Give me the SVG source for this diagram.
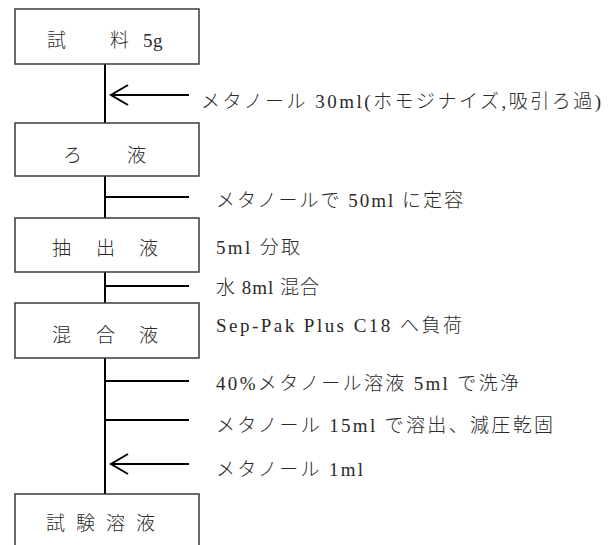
<svg xmlns="http://www.w3.org/2000/svg" width="616" height="545" viewBox="0 0 616 545">
<style>
.box{fill:#fff;stroke:#3a3a3a;stroke-width:1.5}
.bt{font-family:"Liberation Serif","Noto Sans CJK JP",serif;font-size:19px;font-weight:300;fill:#2a2a2a}
.lb{font-family:"Liberation Serif","Noto Sans CJK JP",serif;font-size:19px;font-weight:300;fill:#2a2a2a}
.ln{stroke:#000;stroke-width:2;fill:none}
</style>
<defs>
<marker id="ah" markerUnits="userSpaceOnUse" markerWidth="24" markerHeight="24" viewBox="-20 -12 24 24" refX="0" refY="0" orient="auto" overflow="visible">
<path d="M-17,-10 L0,0 L-17,10" fill="none" stroke="#000" stroke-width="2"/>
</marker>
</defs>
<g id="connectors">
<line class="ln" x1="105" y1="64" x2="105" y2="123"/>
<line class="ln" x1="105" y1="176" x2="105" y2="218"/>
<line class="ln" x1="105" y1="272" x2="105" y2="303"/>
<line class="ln" x1="105" y1="358" x2="105" y2="494"/>
<line class="ln" x1="189" y1="95" x2="111" y2="95" marker-end="url(#ah)"/>
<line class="ln" x1="105" y1="197" x2="189" y2="197"/>
<line class="ln" x1="105" y1="286" x2="189" y2="286"/>
<line class="ln" x1="105" y1="381" x2="189" y2="381"/>
<line class="ln" x1="105" y1="420" x2="189" y2="420"/>
<line class="ln" x1="189" y1="464" x2="111" y2="464" marker-end="url(#ah)"/>
</g>
<g id="node1">
<rect class="box" x="15" y="9" width="184" height="55"/>
<text class="bt" x="47 67 88 110 130 143 153" y="47" xml:space="preserve">試　　料 5g</text>
</g>
<g id="node2">
<rect class="box" x="15" y="123" width="184" height="53"/>
<text class="bt" x="63 84 105 127" y="162">ろ　　液</text>
</g>
<g id="node3">
<rect class="box" x="15" y="218" width="184" height="54"/>
<text class="bt" x="52 73 96 117 139" y="255" xml:space="preserve">抽 出 液</text>
</g>
<g id="node4">
<rect class="box" x="15" y="303" width="184" height="55"/>
<text class="bt" x="52 73 96 117 139" y="342" xml:space="preserve">混 合 液</text>
</g>
<g id="node5">
<rect class="box" x="15" y="494" width="184" height="70"/>
<text class="bt" x="46 66 76 96 106 126 136" y="530" xml:space="preserve">試 験 溶 液</text>
</g>
<g id="labels">
<text class="lb" x="201" y="108" textLength="400" lengthAdjust="spacing" xml:space="preserve">メタノール 30ml(ホモジナイズ,吸引ろ過)</text>
<text class="lb" x="216" y="207" textLength="247" lengthAdjust="spacing" xml:space="preserve">メタノールで 50ml に定容</text>
<text class="lb" x="216" y="254" textLength="84" lengthAdjust="spacing" xml:space="preserve">5ml 分取</text>
<text class="lb" x="216" y="294" textLength="103" lengthAdjust="spacing" xml:space="preserve">水 8ml 混合</text>
<text class="lb" x="216" y="332" textLength="246" lengthAdjust="spacing" xml:space="preserve">Sep-Pak Plus C18 へ負荷</text>
<text class="lb" x="216" y="390" textLength="303" lengthAdjust="spacing" xml:space="preserve">40%メタノール溶液 5ml で洗浄</text>
<text class="lb" x="216" y="432" textLength="337" lengthAdjust="spacing" xml:space="preserve">メタノール 15ml で溶出、減圧乾固</text>
<text class="lb" x="216" y="476" textLength="147" lengthAdjust="spacing" xml:space="preserve">メタノール 1ml</text>
</g>
</svg>
